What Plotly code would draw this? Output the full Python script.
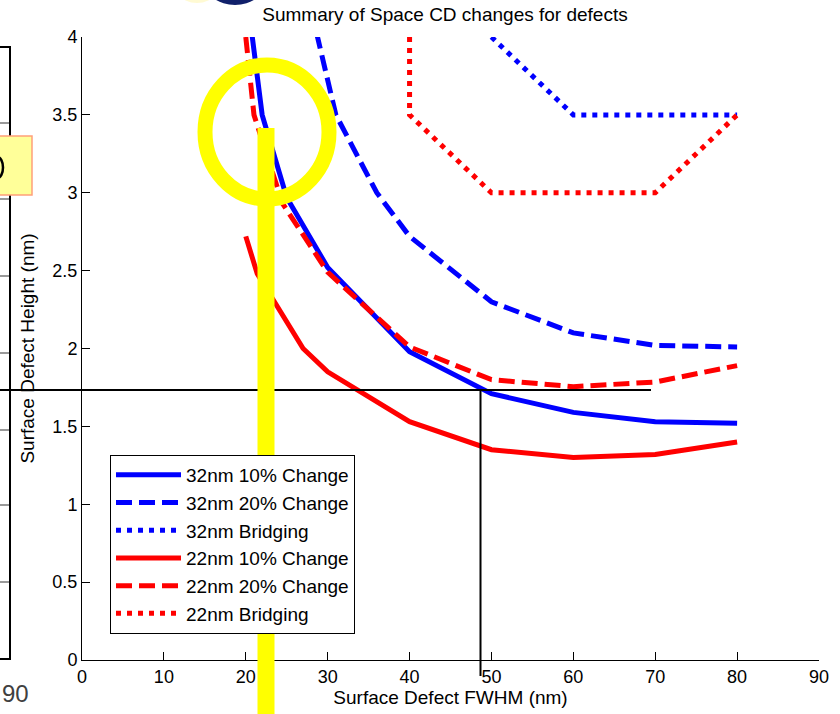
import plotly.graph_objects as go

# ---- data ----
x_32_10 = [20, 22, 25, 30, 40, 50, 60, 70, 80]
y_32_10 = [4.33, 3.5, 2.97, 2.52, 1.98, 1.71, 1.59, 1.53, 1.52]

x_32_20 = [28, 31, 36, 40, 50, 60, 70, 80]
y_32_20 = [4.17, 3.5, 3.0, 2.72, 2.30, 2.10, 2.02, 2.01]

x_32_br = [50, 60, 70, 80]
y_32_br = [4.0, 3.5, 3.5, 3.5]

x_22_10 = [20, 21.4, 27, 30, 40, 50, 60, 70, 80]
y_22_10 = [2.72, 2.48, 2.0, 1.85, 1.53, 1.35, 1.30, 1.32, 1.40]

x_22_20 = [20, 21, 24.5, 30, 40, 50, 60, 70, 80]
y_22_20 = [4.0, 3.5, 2.93, 2.49, 2.01, 1.80, 1.755, 1.785, 1.89]

x_22_br = [40, 40, 50, 60, 70, 80]
y_22_br = [4.0, 3.5, 3.0, 3.0, 3.0, 3.5]

x_ticks = [0, 10, 20, 30, 40, 50, 60, 70, 80, 90]
y_ticks = [0, 0.5, 1, 1.5, 2, 2.5, 3, 3.5, 4]
y_ticktext = ["0", "0.5", "1", "1.5", "2", "2.5", "3", "3.5", "4"]

series = [
    ("32nm 10% Change", x_32_10, y_32_10, "#0000FF", "solid"),
    ("32nm 20% Change", x_32_20, y_32_20, "#0000FF", "16px,7px"),
    ("32nm Bridging", x_32_br, y_32_br, "#0000FF", "5px,6px"),
    ("22nm 10% Change", x_22_10, y_22_10, "#FF0000", "solid"),
    ("22nm 20% Change", x_22_20, y_22_20, "#FF0000", "16px,7px"),
    ("22nm Bridging", x_22_br, y_22_br, "#FF0000", "5px,6px"),
]

W, H = 840, 714
L, R, T, B = 82, 21, 37, 54
PW, PH = W - L - R, H - T - B

def px(xp):
    return (xp - L) / PW

def py(yp):
    return (H - B - yp) / PH

FONT = "Arial, Liberation Sans, Helvetica, sans-serif"

fig = go.Figure()
for name, xs, ys, col, dash in series:
    fig.add_trace(go.Scatter(x=xs, y=ys, mode="lines", name=name,
                             line=dict(color=col, width=5, dash=dash)))

shapes = []
# black cross-hair lines drawn on the slide
shapes.append(dict(type="line", xref="paper", yref="paper",
                   x0=px(0), x1=px(651), y0=py(390), y1=py(390),
                   line=dict(color="black", width=2)))
shapes.append(dict(type="line", xref="paper", yref="paper",
                   x0=px(480.5), x1=px(480.5), y0=py(390), y1=py(676),
                   line=dict(color="black", width=2)))
# yellow circle and bar
shapes.append(dict(type="circle", xref="paper", yref="paper",
                   x0=px(205), x1=px(329), y0=py(65), y1=py(199),
                   line=dict(color="#FFFF00", width=15)))
shapes.append(dict(type="rect", xref="paper", yref="paper",
                   x0=px(257.5), x1=px(274.5), y0=py(128), y1=py(720),
                   fillcolor="#FFFF00", line=dict(width=0)))
# left-hand neighbouring chart fragments
for gy in [123, 199, 276, 353, 430, 505, 582]:
    shapes.append(dict(type="line", xref="paper", yref="paper",
                       x0=px(0), x1=px(9), y0=py(gy), y1=py(gy),
                       line=dict(color="#999999", width=2)))
shapes.append(dict(type="path", xref="paper", yref="paper",
                   path="M {} {} L {} {} L {} {} L {} {}".format(
                       px(-2), py(47), px(10), py(47), px(10), py(659), px(-2), py(659)),
                   line=dict(color="black", width=2)))
shapes.append(dict(type="rect", xref="paper", yref="paper",
                   x0=px(-5), x1=px(32), y0=py(136), y1=py(195),
                   fillcolor="#FFFF99", line=dict(color="#FFA07A", width=1.5)))
# sliver of a glyph inside the yellow box
shapes.append(dict(type="circle", xref="paper", yref="paper",
                   x0=px(-8), x1=px(3), y0=py(157), y1=py(178),
                   line=dict(color="black", width=2.5)))
# dark blue blob at the top
shapes.append(dict(type="circle", xref="paper", yref="paper",
                   x0=px(182), x1=px(212), y0=py(-12), y1=py(3),
                   fillcolor="#FFF8C0", line=dict(width=0), opacity=0.7))
shapes.append(dict(type="circle", xref="paper", yref="paper",
                   x0=px(205), x1=px(265), y0=py(-40), y1=py(5),
                   fillcolor="#10206a", line=dict(width=0)))

annotations = [
    dict(text="90", xref="paper", yref="paper", x=px(0), y=py(693),
         xanchor="left", yanchor="middle", showarrow=False,
         font=dict(family=FONT, size=24, color="#404040")),
]

fig.update_layout(
    width=W, height=H, autosize=False,
    margin=dict(l=L, r=R, t=T, b=B, pad=0, autoexpand=False),
    paper_bgcolor="white", plot_bgcolor="white",
    font=dict(family=FONT, size=18, color="black"),
    title=dict(text="Summary of Space CD changes for defects",
               xref="container", yref="container",
               x=445 / W, xanchor="center", y=1 - 14 / H, yanchor="middle",
               font=dict(family=FONT, size=19, color="black")),
    xaxis=dict(range=[0, 90], tickvals=x_ticks, automargin=False,
               ticks="inside", ticklen=8, tickwidth=1, tickcolor="black",
               showline=True, linecolor="black", linewidth=1,
               showgrid=False, zeroline=False,
               tickfont=dict(family=FONT, size=18),
               title=dict(text="Surface Defect FWHM (nm)", standoff=3,
                          font=dict(family=FONT, size=19))),
    yaxis=dict(range=[0, 4], tickvals=y_ticks, ticktext=y_ticktext,
               automargin=False,
               ticks="inside", ticklen=8, tickwidth=1, tickcolor="black",
               showline=True, linecolor="black", linewidth=1,
               showgrid=False, zeroline=False,
               tickfont=dict(family=FONT, size=18),
               title=dict(text="Surface Defect Height (nm)", standoff=12,
                          font=dict(family=FONT, size=19))),
    legend=dict(x=px(110), y=py(455), xanchor="left", yanchor="top",
                bgcolor="white", bordercolor="black", borderwidth=1,
                font=dict(family=FONT, size=19, color="black"),
                itemwidth=65, tracegroupgap=0),
    shapes=shapes,
    annotations=annotations,
    showlegend=True,
)

fig.write_html(
    "out.html",
    config={"displayModeBar": False},
    post_script="document.body.style.margin='0';document.body.style.padding='0';",
)
